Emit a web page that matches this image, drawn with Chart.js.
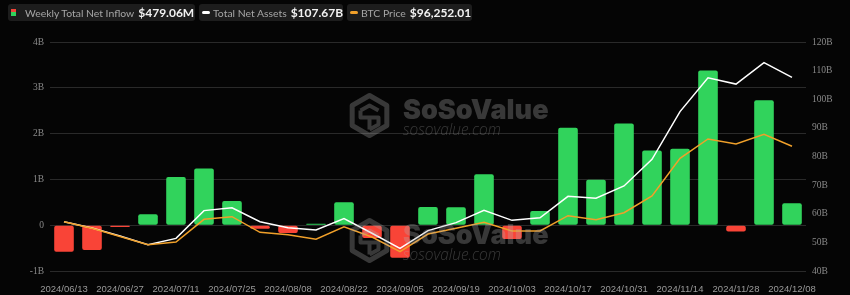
<!DOCTYPE html>
<html>
<head>
<meta charset="utf-8">
<script src="https://cdn.jsdelivr.net/npm/chart.js"></script>
<style>
  body { margin: 0; background: #050505; }
  #wrap { position: relative; width: 850px; height: 295px; }
  #legend { position: absolute; top: 4px; left: 8px; display: flex; gap: 4px; }
  .lg { display: flex; align-items: center; height: 17px; background: #1d1d1d; border-radius: 3px;
        font-family: Lato, sans-serif; white-space: nowrap; padding: 0 2px 0 3px; box-sizing: border-box; }
  .lg .ic { display: inline-block; margin-right: 3px; flex: none; }
  .lg .nm { font-size: 10.4px; color: #a6a6a6; margin-right: 4px; }
  .lg .vl { font-size: 12px; font-weight: 700; color: #f2f2f2; margin-left: auto; }
</style>
</head>
<body>
<div id="wrap">
  <canvas id="etfChart" width="850" height="295"></canvas>
  <div id="legend">
    <div class="lg" style="width:187px">
      <span class="ic" style="width:5px;height:7px;margin-right:9px;background:linear-gradient(#f04438 0 45%, #31d35c 45% 100%)"></span>
      <span class="nm">Weekly Total Net Inflow</span>
      <span class="vl">$479.06M</span>
    </div>
    <div class="lg" style="width:144px">
      <span class="ic" style="width:8px;height:3px;border-radius:2px;background:#fff"></span>
      <span class="nm">Total Net Assets</span>
      <span class="vl">$107.67B</span>
    </div>
    <div class="lg" style="width:125px">
      <span class="ic" style="width:8px;height:3px;border-radius:2px;background:#f0a02a"></span>
      <span class="nm">BTC Price</span>
      <span class="vl">$96,252.01</span>
    </div>
  </div>
</div>
<script>
    // weekly data, values in billions USD (inflow, assets) and USD (btc)
    const weeks = ['2024/06/13', '2024/06/20', '2024/06/27', '2024/07/04', '2024/07/11', '2024/07/18',
        '2024/07/25', '2024/08/01', '2024/08/08', '2024/08/15', '2024/08/22', '2024/08/29',
        '2024/09/05', '2024/09/12', '2024/09/19', '2024/09/26', '2024/10/03', '2024/10/10',
        '2024/10/17', '2024/10/24', '2024/10/31', '2024/11/07', '2024/11/14', '2024/11/21',
        '2024/11/28', '2024/12/05', '2024/12/08'];
    const netInflow = [-0.58, -0.54, -0.04, 0.24, 1.05, 1.24, 0.53, -0.08, -0.17, 0.03, 0.50, -0.28,
        -0.71, 0.40, 0.39, 1.11, -0.30, 0.31, 2.13, 0.99, 2.22, 1.63, 1.67, 3.38, -0.14, 2.73, 0.479];
    const totalNetAssets = [57.2, 55.0, 52.2, 49.2, 51.4, 61.1, 62.1, 57.2, 55.1, 54.3, 58.3, 53.2,
        47.9, 54.1, 56.9, 61.2, 57.7, 58.6, 66.1, 65.4, 69.7, 79.0, 95.7, 107.5, 105.3, 112.8, 107.67];
    const btcPrice = [66770, 64190, 60980, 57780, 58830, 67700, 68720, 62620, 61690, 59890, 64810, 60790,
        55040, 61960, 64190, 66530, 63130, 63130, 69110, 67550, 70280, 76810, 91540, 99090, 97130, 100920, 96252.01];
    const leftTicks = [-1, 0, 1, 2, 3, 4];
    const rightTicks = [40, 50, 60, 70, 80, 90, 100, 110, 120];

    const GREEN = '#31d35c';
    const RED = '#f94437';

    // SoSoValue watermark, drawn twice
    const watermark = {
        id: 'watermark',
        afterDatasetsDraw(chart) {
            const ctx = chart.ctx;
            [0, 125].forEach(dy => {
                ctx.save();
                ctx.globalAlpha = 0.3;
                ctx.fillStyle = '#b0b0b0';
                ctx.strokeStyle = '#b0b0b0';
                // hexagon logo
                const cx = 369.5, cy = 115.5 + dy, r = 20;
                ctx.lineWidth = 5;
                ctx.lineJoin = 'round';
                ctx.beginPath();
                for (let i = 0; i < 6; i++) {
                    const a = Math.PI / 3 * i - Math.PI / 2;
                    const px = cx + r * Math.cos(a), py = cy + r * Math.sin(a);
                    i === 0 ? ctx.moveTo(px, py) : ctx.lineTo(px, py);
                }
                ctx.closePath();
                ctx.stroke();
                ctx.lineWidth = 4;
                ctx.beginPath();
                ctx.moveTo(cx - 9, cy - 5);
                ctx.lineTo(cx, cy - 10);
                ctx.lineTo(cx + 9, cy - 5);
                ctx.moveTo(cx - 9, cy - 5);
                ctx.lineTo(cx - 9, cy + 2);
                ctx.lineTo(cx + 9, cy + 2);
                ctx.lineTo(cx + 9, cy + 9);
                ctx.lineTo(cx, cy + 14);
                ctx.moveTo(cx, cy + 2);
                ctx.lineTo(cx, cy + 14);
                ctx.stroke();
                // texts
                ctx.textBaseline = 'alphabetic';
                ctx.font = '900 27px Inter';
                ctx.fillText('SoSoValue', 403, 118.5 + dy, 150);
                ctx.font = 'italic 300 16px "Open Sans"';
                ctx.fillText('sosovalue.com', 403, 135 + dy, 98);
                ctx.restore();
            });
        }
    };

    const ctx = document.getElementById('etfChart').getContext('2d');
    const etfChart = new Chart(ctx, {
        type: 'bar',
        data: {
            labels: weeks,
            datasets: [{
                type: 'line',
                label: 'Total Net Assets',
                data: totalNetAssets,
                yAxisID: 'y1',
                borderColor: '#ffffff',
                borderWidth: 1.5,
                pointRadius: 0,
                tension: 0,
                order: 1
            }, {
                type: 'line',
                label: 'BTC Price',
                data: btcPrice,
                yAxisID: 'yBtc',
                borderColor: '#f0a02a',
                borderWidth: 1.5,
                pointRadius: 0,
                tension: 0,
                order: 0
            }, {
                label: 'Weekly Total Net Inflow',
                data: netInflow,
                yAxisID: 'y',
                backgroundColor: netInflow.map(v => v >= 0 ? GREEN : RED),
                borderRadius: 2,
                borderSkipped: false,
                barPercentage: 0.7,
                categoryPercentage: 1,
                order: 2
            }]
        },
        options: {
            responsive: false,
            animation: false,
            layout: { padding: { top: 42, left: 0, right: 0, bottom: 0 } },
            plugins: { legend: { display: false }, tooltip: { enabled: false } },
            scales: {
                x: {
                    grid: { display: false },
                    border: { display: false },
                    afterFit: s => { s.height = 24; },
                    ticks: {
                        autoSkip: false,
                        maxRotation: 0,
                        padding: 5,
                        color: '#9a9a9a',
                        font: { family: 'Liberation Sans', size: 9.5 },
                        callback: (v, i) => i % 2 === 0 ? weeks[i] : ''
                    }
                },
                y: {
                    position: 'left',
                    min: leftTicks[0],
                    max: leftTicks[leftTicks.length - 1],
                    afterFit: s => { s.width = 50; },
                    afterBuildTicks: s => { s.ticks = leftTicks.map(v => ({ value: v })); },
                    grid: { color: '#2a2a2a', lineWidth: 1, drawTicks: false },
                    border: { display: false },
                    ticks: {
                        padding: 6,
                        color: '#8a8a8a',
                        font: { family: 'Liberation Serif', size: 9.5 },
                        callback: v => v === 0 ? '0' : v + 'B'
                    }
                },
                y1: {
                    position: 'right',
                    min: rightTicks[0],
                    max: rightTicks[rightTicks.length - 1],
                    afterFit: s => { s.width = 44; },
                    afterBuildTicks: s => { s.ticks = rightTicks.map(v => ({ value: v })); },
                    grid: { display: false, drawTicks: false },
                    border: { display: false },
                    ticks: {
                        padding: 6,
                        color: '#8a8a8a',
                        font: { family: 'Liberation Serif', size: 9.5 },
                        callback: v => v + 'B'
                    }
                },
                yBtc: {
                    display: false,
                    min: 47500,
                    max: 137000
                }
            }
        },
        plugins: [watermark]
    });
</script>
</body>
</html>
